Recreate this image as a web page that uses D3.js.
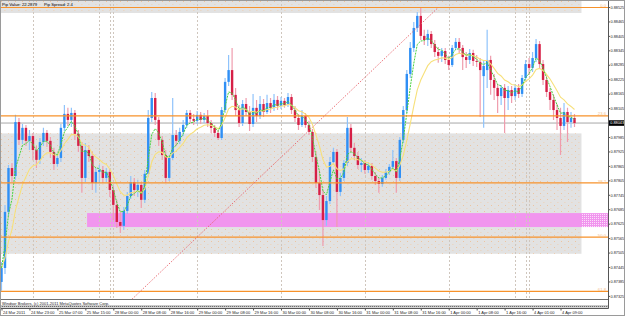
<!DOCTYPE html>
<html>
<head>
<meta charset="utf-8">
<script src="https://cdn.jsdelivr.net/npm/d3@7"></script>
<style>
  body { margin: 0; background: #fff; }
  svg { display: block; font-family: "Liberation Sans", Arial, sans-serif; }
</style>
</head>
<body>
<div id="chart"></div>
<script>
// EURGBP H1 bars, 24 Mar 15:00 .. 4 Apr 14:00
const opens = [
  0.87383,0.87441,0.87674,0.87856,0.87823,0.88047,0.87973,0.88023,0.87969,0.87989,
  0.87931,0.87890,0.87964,0.88002,0.87969,0.87923,0.87873,0.87898,0.88023,0.88081,
  0.88056,0.88085,0.87998,0.87948,0.87815,0.87931,0.87906,0.87794,0.87840,0.87848,
  0.87815,0.87840,0.87765,0.87703,0.87632,0.87616,0.87678,0.87740,0.87798,0.87765,
  0.87786,0.87724,0.87832,0.88064,0.88147,0.88056,0.87973,0.87910,0.87815,0.87898,
  0.87993,0.87969,0.88006,0.88035,0.88085,0.88060,0.88052,0.88077,0.88056,0.88072,
  0.88043,0.88023,0.88002,0.87981,0.88097,0.88214,0.88263,0.88160,0.88097,0.88043,
  0.88122,0.88089,0.88039,0.88106,0.88072,0.88122,0.88089,0.88126,0.88106,0.88139,
  0.88114,0.88135,0.88118,0.88151,0.88097,0.88064,0.88035,0.88072,0.88035,0.88006,
  0.87902,0.87794,0.87744,0.87640,0.87719,0.87881,0.87923,0.87757,0.87815,0.87877,
  0.88023,0.87940,0.87906,0.87869,0.87877,0.87848,0.87865,0.87823,0.87802,0.87790,
  0.87815,0.87840,0.87861,0.87885,0.87815,0.87973,0.88097,0.88247,0.88355,0.88438,
  0.88488,0.88405,0.88388,0.88413,0.88371,0.88338,0.88322,0.88342,0.88305,0.88284,
  0.88355,0.88380,0.88355,0.88317,0.88305,0.88334,0.88301,0.88297,0.88238,0.88263,
  0.88305,0.88222,0.88189,0.88155,0.88189,0.88147,0.88180,0.88155,0.88189,0.88164,
  0.88230,0.88288,0.88272,0.88313,0.88371,0.88288,0.88222,0.88172,0.88139,0.88097,
  0.88064,0.88031,0.88089,0.88047,0.88064
];
const highs = [
  0.87466,0.87703,0.87869,0.87877,0.88077,0.88064,0.88039,0.88035,0.88014,0.88002,
  0.87948,0.87981,0.88023,0.88014,0.87985,0.87940,0.87915,0.88039,0.88118,0.88106,
  0.88106,0.88097,0.88014,0.87964,0.87960,0.87952,0.87923,0.87856,0.87869,0.87865,
  0.87856,0.87852,0.87782,0.87724,0.87674,0.87694,0.87757,0.87823,0.87815,0.87807,
  0.87798,0.87848,0.88097,0.88172,0.88168,0.88068,0.87989,0.87931,0.87910,0.88147,
  0.88014,0.88023,0.88056,0.88097,0.88097,0.88081,0.88093,0.88089,0.88085,0.88097,
  0.88056,0.88035,0.88014,0.88110,0.88230,0.88326,0.88355,0.88189,0.88118,0.88139,
  0.88147,0.88114,0.88164,0.88139,0.88155,0.88143,0.88160,0.88147,0.88164,0.88155,
  0.88151,0.88147,0.88168,0.88164,0.88114,0.88081,0.88097,0.88085,0.88052,0.88018,
  0.87923,0.87848,0.87765,0.87740,0.87902,0.87940,0.87935,0.87836,0.87890,0.88068,
  0.88039,0.87960,0.87923,0.87898,0.87890,0.87881,0.87877,0.87840,0.87815,0.87827,
  0.87852,0.87873,0.87931,0.87898,0.87985,0.88114,0.88263,0.88380,0.88463,0.88504,
  0.88521,0.88430,0.88430,0.88425,0.88388,0.88359,0.88355,0.88355,0.88322,0.88367,
  0.88396,0.88396,0.88367,0.88338,0.88351,0.88347,0.88326,0.88313,0.88305,0.88430,
  0.88322,0.88247,0.88205,0.88201,0.88205,0.88197,0.88197,0.88205,0.88205,0.88243,
  0.88305,0.88313,0.88338,0.88392,0.88384,0.88305,0.88239,0.88189,0.88160,0.88122,
  0.88106,0.88126,0.88106,0.88089,0.88081
];
const lows = [
  0.87346,0.87416,0.87657,0.87798,0.87807,0.87952,0.87956,0.87948,0.87931,0.87890,
  0.87856,0.87873,0.87948,0.87944,0.87898,0.87848,0.87861,0.87881,0.88010,0.88031,
  0.88027,0.87973,0.87923,0.87753,0.87798,0.87881,0.87765,0.87753,0.87794,0.87794,
  0.87798,0.87736,0.87640,0.87607,0.87586,0.87599,0.87665,0.87728,0.87740,0.87736,
  0.87690,0.87711,0.87819,0.88047,0.88035,0.87948,0.87890,0.87794,0.87802,0.87890,
  0.87948,0.87956,0.87989,0.88023,0.88043,0.88035,0.88039,0.88039,0.88043,0.88027,
  0.88002,0.87985,0.87973,0.87973,0.88085,0.88197,0.88139,0.88072,0.88027,0.88031,
  0.88072,0.88010,0.88027,0.88047,0.88060,0.88068,0.88081,0.88085,0.88093,0.88097,
  0.88101,0.88106,0.88110,0.88081,0.88047,0.88014,0.88027,0.88023,0.87993,0.87881,
  0.87773,0.87682,0.87532,0.87616,0.87707,0.87869,0.87611,0.87740,0.87802,0.87865,
  0.87923,0.87890,0.87852,0.87840,0.87832,0.87836,0.87807,0.87786,0.87753,0.87778,
  0.87807,0.87827,0.87852,0.87753,0.87802,0.87960,0.88085,0.88230,0.88338,0.88421,
  0.88388,0.88367,0.88363,0.88355,0.88317,0.88293,0.88297,0.88288,0.88263,0.88276,
  0.88347,0.88334,0.88263,0.88272,0.88288,0.88280,0.88276,0.88068,0.88023,0.88189,
  0.88160,0.88139,0.88085,0.88118,0.88002,0.88097,0.88126,0.88139,0.88147,0.88151,
  0.88214,0.88243,0.88255,0.88297,0.88272,0.88201,0.88151,0.88097,0.88056,0.88014,
  0.87910,0.88014,0.87964,0.88023,0.88027
];
const closes = [
  0.87441,0.87674,0.87856,0.87823,0.88047,0.87973,0.88023,0.87969,0.87989,0.87931,
  0.87890,0.87964,0.88002,0.87969,0.87923,0.87873,0.87898,0.88023,0.88081,0.88056,
  0.88085,0.87998,0.87948,0.87815,0.87931,0.87906,0.87794,0.87840,0.87848,0.87815,
  0.87840,0.87765,0.87703,0.87632,0.87616,0.87678,0.87740,0.87798,0.87765,0.87786,
  0.87724,0.87832,0.88064,0.88147,0.88056,0.87973,0.87910,0.87815,0.87898,0.87993,
  0.87969,0.88006,0.88035,0.88085,0.88060,0.88052,0.88077,0.88056,0.88072,0.88043,
  0.88023,0.88002,0.87981,0.88097,0.88214,0.88263,0.88160,0.88097,0.88043,0.88122,
  0.88089,0.88039,0.88106,0.88072,0.88122,0.88089,0.88126,0.88106,0.88139,0.88114,
  0.88135,0.88118,0.88151,0.88097,0.88064,0.88035,0.88072,0.88035,0.88006,0.87902,
  0.87794,0.87744,0.87640,0.87719,0.87881,0.87923,0.87757,0.87815,0.87877,0.88023,
  0.87940,0.87906,0.87869,0.87877,0.87848,0.87865,0.87823,0.87802,0.87790,0.87815,
  0.87840,0.87861,0.87885,0.87815,0.87973,0.88097,0.88247,0.88355,0.88438,0.88488,
  0.88405,0.88388,0.88413,0.88371,0.88338,0.88322,0.88342,0.88305,0.88284,0.88355,
  0.88380,0.88355,0.88317,0.88305,0.88334,0.88301,0.88297,0.88263,0.88280,0.88305,
  0.88222,0.88189,0.88155,0.88189,0.88147,0.88180,0.88155,0.88189,0.88164,0.88230,
  0.88288,0.88272,0.88313,0.88371,0.88288,0.88222,0.88172,0.88139,0.88097,0.88064,
  0.88031,0.88089,0.88047,0.88064,0.88043
];

const timeBars = [0, 8, 16, 24, 32, 40, 48, 56, 64, 72, 80, 88, 96, 104, 112, 120, 128, 136, 144, 152, 160];
const timeLabels = [
  '24 Mar 2011', '24 Mar 23:00', '25 Mar 07:00', '25 Mar 15:00', '28 Mar 00:00', '28 Mar 08:00',
  '28 Mar 16:00', '29 Mar 00:00', '29 Mar 08:00', '29 Mar 16:00', '30 Mar 00:00', '30 Mar 08:00',
  '30 Mar 16:00', '31 Mar 00:00', '31 Mar 08:00', '31 Mar 16:00', '1 Apr 00:00', '1 Apr 08:00',
  '1 Apr 16:00', '4 Apr 01:00', '4 Apr 09:00'
];
const separatorBars = [9, 28, 31, 32, 56, 80, 104, 128, 147, 150, 151];
const priceTicks = [
  0.87325, 0.87385, 0.87445, 0.87505, 0.87565, 0.87625, 0.87685, 0.87745, 0.87805, 0.87865, 0.87925,
  0.87985, 0.88045, 0.88105, 0.88165, 0.88225, 0.88285, 0.88345, 0.88405, 0.88465, 0.88525
];

// fibo retracement anchors (bar index, price)
const fiboBars = [-13, 125];
const fiboPrices = [0.86615, 0.88523];
const fiboLevels = [0, 23.6, 38.2, 50.0, 61.8];

// rectangles: gray zones and the pink one
const grayZoneLows = [0.88500, 0.87500];
const grayZoneHighs = [0.88570, 0.88000];
const grayZoneEnd = 166;
const pinkZone = [24.5, 0.87611, 0.87669];

const headerTexts = ['Pip Value: 22.2879', 'Pip Spread: 2.4'];
const copyright = 'Windsor Brokers, (c) 2001-2011 MetaQuotes Software Corp.';

const W = 625, H = 316;
const plotRight = 608.5, plotBottom = 299.5, axisY = 308.5;

const svg = d3.select('#chart').append('svg')
  .attr('width', W)
  .attr('height', H);

const defs = svg.append('defs');
defs.append('clipPath').attr('id', 'plot')
  .append('rect').attr('x', 0.5).attr('y', 0.5).attr('width', plotRight - 0.5).attr('height', plotBottom - 0.5);

const dots = defs.append('pattern').attr('id', 'dots')
  .attr('width', 7).attr('height', 6).attr('patternUnits', 'userSpaceOnUse');
dots.append('rect').attr('x', 1).attr('y', 1).attr('width', 0.8).attr('height', 0.8).attr('fill', '#f2b27a');
dots.append('rect').attr('x', 4.5).attr('y', 4).attr('width', 0.8).attr('height', 0.8).attr('fill', '#f2c49a');

const stip = defs.append('pattern').attr('id', 'stip')
  .attr('width', 2).attr('height', 2).attr('patternUnits', 'userSpaceOnUse');
stip.append('rect').attr('width', 1).attr('height', 1).attr('fill', '#fff').attr('opacity', 0.7);

const hatch = defs.append('pattern').attr('id', 'hatch')
  .attr('width', 2).attr('height', 2).attr('patternUnits', 'userSpaceOnUse');
hatch.append('rect').attr('width', 2).attr('height', 2).attr('fill', '#bdbdbd');
hatch.append('rect').attr('width', 1).attr('height', 1).attr('fill', '#6f6f6f');

const x = d3.scaleLinear().domain([0, 164]).range([1.5, 574.5]);
const y = d3.scaleLinear().domain([0.87325, 0.88525]).range([295.9, 7.0]);

svg.append('rect').attr('width', W).attr('height', H).attr('fill', '#fff');

const g = svg.append('g').attr('clip-path', 'url(#plot)');

// gray zones
grayZoneLows.forEach(function (lo, k) {
  const top = y(grayZoneHighs[k]), bot = y(lo);
  g.append('rect').attr('x', 0).attr('y', top).attr('width', x(grayZoneEnd)).attr('height', bot - top).attr('fill', '#e2e2e2');
  g.append('rect').attr('x', 0).attr('y', top).attr('width', x(grayZoneEnd)).attr('height', bot - top).attr('fill', 'url(#dots)');
});

// pink zone
const pTop = y(pinkZone[2]), pBot = y(pinkZone[1]);
g.append('rect').attr('x', x(pinkZone[0])).attr('y', pTop)
  .attr('width', plotRight - x(pinkZone[0])).attr('height', pBot - pTop).attr('fill', '#f195ee');
g.append('rect').attr('x', x(grayZoneEnd)).attr('y', pTop)
  .attr('width', plotRight - x(grayZoneEnd)).attr('height', pBot - pTop).attr('fill', 'url(#stip)');

// period separators
g.selectAll('.sep').data(separatorBars).enter().append('line')
  .attr('x1', d => Math.round(x(d)) + 0.5).attr('x2', d => Math.round(x(d)) + 0.5)
  .attr('y1', 0).attr('y2', plotBottom)
  .attr('stroke', '#cfc6bd').attr('stroke-width', 1).attr('stroke-dasharray', '2,2');

// bid line
const bid = closes[closes.length - 1];
g.append('line').attr('x1', 0).attr('x2', plotRight).attr('y1', y(bid)).attr('y2', y(bid))
  .attr('stroke', '#a8a8a8').attr('stroke-width', 1);

// candles
const bars = d3.range(closes.length);
g.selectAll('.wick').data(bars).enter().append('line')
  .attr('x1', i => x(i)).attr('x2', i => x(i))
  .attr('y1', i => y(highs[i])).attr('y2', i => y(lows[i]))
  .attr('stroke', i => closes[i] >= opens[i] ? '#8fc3fb' : '#ef9cad')
  .attr('stroke-width', 1.2);
g.selectAll('.body').data(bars).enter().append('rect')
  .attr('x', i => x(i) - 1.2)
  .attr('width', 2.4)
  .attr('y', i => y(Math.max(opens[i], closes[i])))
  .attr('height', i => Math.max(0.8, Math.abs(y(opens[i]) - y(closes[i]))))
  .attr('fill', i => closes[i] >= opens[i] ? '#2f8ff5' : '#d61f46');

// moving averages
function ema(values, n) {
  const a = 2 / (n + 1);
  const out = [];
  values.forEach(function (v, i) { out.push(i === 0 ? v : out[i - 1] + a * (v - out[i - 1])); });
  return out;
}
const line = d3.line().x((d, i) => x(i)).y(d => y(d));
g.append('path').attr('d', line(ema(closes, 10)))
  .attr('fill', 'none').attr('stroke', '#f7e07a').attr('stroke-width', 1.1);
g.append('path').attr('d', line(ema(closes, 4)))
  .attr('fill', 'none').attr('stroke', '#45d23c').attr('stroke-width', 1).attr('stroke-dasharray', '2,1');

// fibo levels
const fibRange = fiboPrices[1] - fiboPrices[0];
fiboLevels.forEach(function (lv) {
  const yy = y(fiboPrices[1] - fibRange * lv / 100);
  g.append('line').attr('x1', 0).attr('x2', plotRight).attr('y1', yy).attr('y2', yy)
    .attr('stroke', '#f7922a').attr('stroke-width', 1.2);
  g.append('text').attr('x', 606).attr('y', yy - 0.4).attr('text-anchor', 'end')
    .attr('font-size', 4.2).attr('fill', '#f4c089').text(lv.toFixed(1));
});
g.append('line')
  .attr('x1', x(fiboBars[0])).attr('y1', y(fiboPrices[0]))
  .attr('x2', x(fiboBars[1])).attr('y2', y(fiboPrices[1]))
  .attr('stroke', '#e8626a').attr('stroke-width', 0.9).attr('stroke-dasharray', '1.5,1.5');

// header text
svg.append('text').attr('x', 2).attr('y', 5.6).attr('font-size', 4.2).attr('fill', '#000').text(headerTexts[0]);
svg.append('text').attr('x', 44).attr('y', 5.6).attr('font-size', 4.2).attr('fill', '#000').text(headerTexts[1]);

// bottom strip
svg.append('line').attr('x1', 0).attr('x2', plotRight).attr('y1', plotBottom).attr('y2', plotBottom)
  .attr('stroke', '#707070');
svg.append('rect').attr('x', 0).attr('y', 305.2).attr('width', plotRight).attr('height', 2.4).attr('fill', 'url(#hatch)');
svg.append('text').attr('x', 2).attr('y', 304.6).attr('font-size', 4).attr('fill', '#222').text(copyright);

// price axis
const yAxis = d3.axisRight(y).tickValues(priceTicks).tickSize(1.5).tickSizeOuter(0).tickFormat(d3.format('.5f'));
const ya = svg.append('g').attr('transform', 'translate(' + plotRight + ',0)').call(yAxis);
ya.select('.domain').remove();
ya.selectAll('line').attr('stroke', '#555');
ya.selectAll('text').attr('x', 2).attr('font-size', 3.8).attr('fill', '#222').attr('font-family', 'Liberation Sans, Arial');
svg.append('line').attr('x1', plotRight).attr('x2', plotRight).attr('y1', 0).attr('y2', axisY)
  .attr('stroke', '#555');

// bid label
svg.append('rect').attr('x', plotRight + 0.5).attr('y', y(bid) - 2.8).attr('width', 16).attr('height', 5.6).attr('fill', '#000');
svg.append('text').attr('x', plotRight + 1.8).attr('y', y(bid) + 1.4).attr('font-size', 3.8).attr('fill', '#fff')
  .text(d3.format('.5f')(bid));

// time axis
const xAxis = d3.axisBottom(x).tickValues(timeBars).tickSize(2).tickSizeOuter(0)
  .tickFormat((d, i) => timeLabels[i]);
const xa = svg.append('g').attr('transform', 'translate(0,' + axisY + ')').call(xAxis);
xa.select('.domain').remove();
xa.selectAll('line').attr('stroke', '#555');
xa.selectAll('text').attr('text-anchor', 'start').attr('x', 1).attr('y', 2.2)
  .attr('font-size', 4).attr('fill', '#222').attr('font-family', 'Liberation Sans, Arial');
svg.append('line').attr('x1', 0).attr('x2', plotRight).attr('y1', axisY).attr('y2', axisY).attr('stroke', '#555');

// frame
svg.append('rect').attr('x', 0.5).attr('y', 0.5).attr('width', W - 1).attr('height', H - 1)
  .attr('fill', 'none').attr('stroke', '#9a9a9a');
</script>
</body>
</html>
